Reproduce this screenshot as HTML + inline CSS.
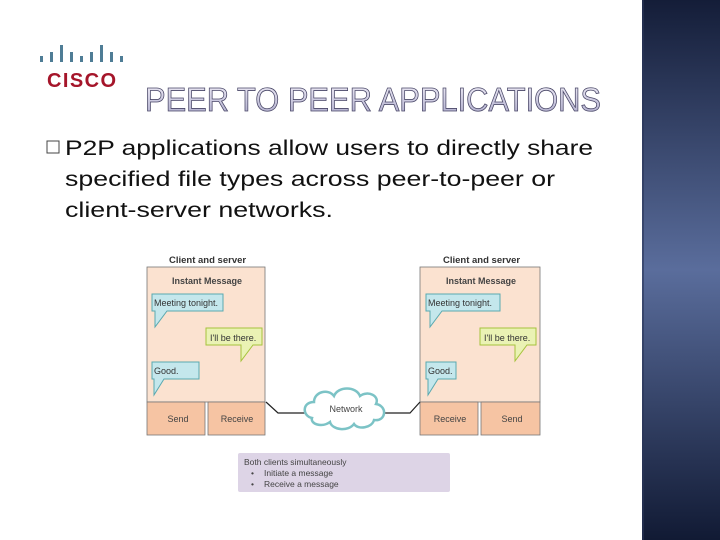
<!DOCTYPE html>
<html><head><style>
html,body{margin:0;padding:0;background:#fff;}
svg{display:block}
text{font-family:"Liberation Sans",sans-serif}
</style></head><body>
<svg width="720" height="540" viewBox="0 0 720 540" xmlns="http://www.w3.org/2000/svg">
<defs>
<linearGradient id="pn" x1="0" y1="0" x2="0" y2="1">
<stop offset="0" stop-color="#141d38"/>
<stop offset="0.5" stop-color="#5a6d9c"/>
<stop offset="1" stop-color="#111a34"/>
</linearGradient>
<linearGradient id="tt" x1="0" y1="0" x2="0" y2="1">
<stop offset="0" stop-color="#f4f2fa"/>
<stop offset="1" stop-color="#a9a6c8"/>
</linearGradient>
</defs>
<rect x="642" y="0" width="78" height="540" fill="url(#pn)"/>
<rect x="642" y="0" width="2" height="540" fill="#2a3558" opacity="0.6"/>
<!-- cisco logo -->
<g fill="#4f7d96">
<rect x="40" y="56" width="3" height="6"/><rect x="50" y="52" width="3" height="10"/><rect x="60" y="45" width="3" height="17"/>
<rect x="70" y="52" width="3" height="10"/><rect x="80" y="56" width="3" height="6"/><rect x="90" y="52" width="3" height="10"/>
<rect x="100" y="45" width="3" height="17"/><rect x="110" y="52" width="3" height="10"/><rect x="120" y="56" width="3" height="6"/>
</g>
<text x="47" y="87" font-size="20" font-weight="bold" fill="#a5152a" textLength="69">CISCO</text>
<!-- title -->
<text x="145" y="111" font-size="33" fill="url(#tt)" stroke="#4a4868" stroke-width="0.8" textLength="456" lengthAdjust="spacingAndGlyphs">PEER TO PEER APPLICATIONS</text>
<!-- body -->
<rect x="47" y="141" width="12" height="12" fill="none" stroke="#444" stroke-width="1"/>
<g font-size="21" fill="#111">
<text x="65" y="155" textLength="528" lengthAdjust="spacingAndGlyphs">P2P applications allow users to directly share</text>
<text x="65" y="186" textLength="490" lengthAdjust="spacingAndGlyphs">specified file types across peer-to-peer or</text>
<text x="65" y="217" textLength="268" lengthAdjust="spacingAndGlyphs">client-server networks.</text>
</g>
<!-- diagram -->
<g font-size="10" fill="#333">
<text x="169" y="263" font-weight="bold" font-size="9.5">Client and server</text>
<text x="443" y="263" font-weight="bold" font-size="9.5">Client and server</text>
</g>
<g stroke="#777" stroke-width="0.8">
<rect x="147" y="267" width="118" height="135" fill="#fbe2d0"/>
<rect x="147" y="402" width="58" height="33" fill="#f6c4a3"/>
<rect x="208" y="402" width="57" height="33" fill="#f6c4a3"/>
<rect x="420" y="267" width="120" height="135" fill="#fbe2d0"/>
<rect x="420" y="402" width="58" height="33" fill="#f6c4a3"/>
<rect x="481" y="402" width="59" height="33" fill="#f6c4a3"/>
</g>
<g font-size="9" fill="#444" text-anchor="middle">
<text x="207" y="284" font-weight="bold">Instant Message</text>
<text x="481" y="284" font-weight="bold">Instant Message</text>
<text x="178" y="422">Send</text><text x="237" y="422">Receive</text>
<text x="450" y="422">Receive</text><text x="512" y="422">Send</text>
</g>
<!-- bubbles -->
<g stroke="#5aa9b0" stroke-width="1">
<path d="M152,294 h71 v17 h-56 l-12,16 v-16 h-3z" fill="#c4e7ec"/>
<path d="M152,362 h47 v17 h-35 l-10,16 v-16 h-2z" fill="#c4e7ec"/>
<path d="M426,294 h74 v17 h-58 l-12,16 v-16 h-4z" fill="#c4e7ec"/>
<path d="M426,362 h30 v17 h-18 l-10,16 v-16 h-2z" fill="#c4e7ec"/>
</g>
<g stroke="#a6c23c" stroke-width="1">
<path d="M206,328 h56 v17 h-9 l-12,16 v-16 h-35z" fill="#eaf2b4"/>
<path d="M480,328 h56 v17 h-9 l-12,16 v-16 h-35z" fill="#eaf2b4"/>
</g>
<g font-size="9" fill="#333">
<text x="154" y="306">Meeting tonight.</text>
<text x="154" y="374">Good.</text>
<text x="428" y="306">Meeting tonight.</text>
<text x="428" y="374">Good.</text>
<text x="210" y="341">I'll be there.</text>
<text x="484" y="341">I'll be there.</text>
</g>
<!-- connectors -->
<polyline points="266,402 278,413 308,413" fill="none" stroke="#222" stroke-width="1.2"/>
<polyline points="420,402 410,413 382,413" fill="none" stroke="#222" stroke-width="1.2"/>
<!-- cloud -->
<path d="M312,418 c-10,-2 -10,-16 2,-16 c0,-10 14,-14 20,-6 c4,-10 22,-10 26,0 c8,-6 20,0 16,8 c12,2 10,18 -2,16 c-2,8 -16,10 -20,4 c-6,8 -22,6 -24,-2 c-8,6 -20,2 -18,-4z" fill="#fff" stroke="#7cc3c6" stroke-width="2.5"/>
<text x="346" y="412" font-size="9" fill="#444" text-anchor="middle">Network</text>
<!-- note -->
<rect x="238" y="453" width="212" height="39" rx="2" fill="#ddd4e6"/>
<g font-size="8.5" fill="#444">
<text x="244" y="465">Both clients simultaneously</text>
<text x="251" y="476">•</text><text x="264" y="476">Initiate a message</text>
<text x="251" y="487">•</text><text x="264" y="487">Receive a message</text>
</g>
</svg>
</body></html>
